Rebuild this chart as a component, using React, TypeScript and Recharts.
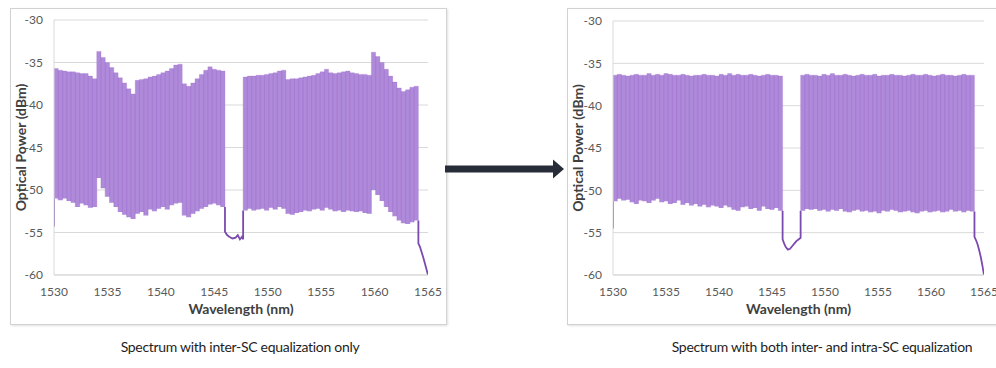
import React from "react";
import { ComposedChart, Area, Line, XAxis, YAxis, CartesianGrid, Label } from "recharts";

const X_TICKS = [1530, 1535, 1540, 1545, 1550, 1555, 1560, 1565];
const Y_TICKS = [-60, -55, -50, -45, -40, -35, -30];

// channel centre wavelengths (nm)
const BAND1_WL = [
  1530.2, 1530.6, 1531.0, 1531.4, 1531.8, 1532.2, 1532.6, 1533.0, 1533.4, 1533.8,
  1534.2, 1534.6, 1535.0, 1535.4, 1535.8, 1536.2, 1536.6, 1537.0, 1537.4, 1537.8,
  1538.2, 1538.6, 1539.0, 1539.4, 1539.8, 1540.2, 1540.6, 1541.0, 1541.4, 1541.8,
  1542.2, 1542.6, 1543.0, 1543.4, 1543.8, 1544.2, 1544.6, 1545.0, 1545.4, 1545.8,
];
const BAND2_WL = [
  1547.9, 1548.3, 1548.7, 1549.1, 1549.5, 1549.9, 1550.3, 1550.7, 1551.1, 1551.5,
  1551.9, 1552.3, 1552.7, 1553.1, 1553.5, 1553.9, 1554.3, 1554.7, 1555.1, 1555.5,
  1555.9, 1556.3, 1556.7, 1557.1, 1557.5, 1557.9, 1558.3, 1558.7, 1559.1, 1559.5,
  1559.9, 1560.3, 1560.7, 1561.1, 1561.5, 1561.9, 1562.3, 1562.7, 1563.1, 1563.5, 1563.9,
];
const CH_HALF = 0.2;

// inter-SC equalization only (dBm)
const INTER_PEAK_1 = [
  -35.7, -35.9, -36.0, -36.1, -36.1, -36.2, -36.3, -36.3, -36.6, -36.9,
  -33.7, -34.4, -35.0, -35.6, -36.2, -36.8, -37.4, -38.1, -38.7,
  -37.1, -37.0, -36.9, -36.7, -36.6, -36.4, -36.2, -36.0, -35.7, -35.3, -35.2,
  -37.5, -37.8, -37.4, -36.9, -36.4, -35.9, -35.5, -35.8, -35.9, -36.0,
];
const INTER_FLOOR_1 = [
  -51.0, -51.2, -51.0, -51.3, -51.5, -52.0, -51.6, -51.8, -52.1, -52.0,
  -48.6, -49.8, -50.8, -51.5, -52.0, -52.6, -52.9, -53.2, -53.4,
  -52.8, -52.6, -53.0, -52.3, -52.5, -52.2, -52.0, -52.3, -51.8, -51.6, -51.5,
  -53.0, -53.2, -52.8, -52.5, -52.2, -52.0, -51.7, -51.6, -51.8, -52.0,
];
const INTER_PEAK_2 = [
  -36.7, -36.6, -36.6, -36.5, -36.5, -36.4, -36.3, -36.2, -36.0, -35.9,
  -37.0, -36.9, -36.9, -36.8, -36.7, -36.6, -36.5, -36.3, -36.1, -35.8,
  -36.2, -36.3, -36.2, -36.1, -36.0, -36.2, -36.3, -36.4, -36.4, -36.5,
  -33.8, -34.3, -35.0, -35.8, -36.6, -37.3, -38.0, -38.4, -38.2, -37.9, -37.8,
];
const INTER_FLOOR_2 = [
  -52.4, -52.2, -52.4, -52.3, -52.2, -52.4, -52.1, -52.3, -52.0, -52.2,
  -52.8, -52.9, -52.7, -52.6, -52.4, -52.5, -52.3, -52.2, -52.4, -52.1,
  -52.3, -52.5, -52.4, -52.6, -52.4, -52.5, -52.6, -52.5, -52.7, -52.8,
  -50.0, -50.6, -51.3, -52.0, -52.6, -53.1, -53.6, -53.9, -54.0, -53.8, -53.6,
];
const INTER_START_WL = [1530.0, 1530.0];
const INTER_START_DBM = [-54.3, -51.0];
const INTER_GAP_WL = [1546.0, 1546.0, 1546.2, 1546.4, 1546.7, 1547.0, 1547.2, 1547.4, 1547.6, 1547.7, 1547.7];
const INTER_GAP_DBM = [-52.0, -54.9, -55.3, -55.5, -55.7, -55.6, -55.3, -55.8, -55.5, -55.8, -52.4];
const INTER_TAIL_WL = [1564.1, 1564.1, 1564.25, 1564.4, 1564.55, 1564.7, 1564.85, 1565.0];
const INTER_TAIL_DBM = [-53.6, -56.3, -56.7, -57.3, -57.9, -58.6, -59.3, -60.0];

// inter- and intra-SC equalization (dBm)
const BOTH_PEAK_1 = [
  -36.4, -36.3, -36.4, -36.5, -36.4, -36.3, -36.4, -36.4, -36.2, -36.4,
  -36.3, -36.4, -36.2, -36.3, -36.4, -36.4, -36.3, -36.4, -36.5, -36.4,
  -36.4, -36.3, -36.4, -36.4, -36.5, -36.3, -36.4, -36.2, -36.4, -36.3,
  -36.4, -36.4, -36.3, -36.4, -36.5, -36.4, -36.3, -36.4, -36.4, -36.5,
];
const BOTH_FLOOR_1 = [
  -51.3, -51.0, -51.2, -51.1, -51.4, -51.6, -51.2, -51.3, -51.5, -51.2,
  -51.0, -51.4, -51.3, -51.6, -51.5, -51.2, -51.7, -51.5, -51.8, -51.6,
  -51.9, -51.7, -52.0, -51.8, -51.9, -52.1, -51.8, -52.0, -52.3, -52.4,
  -52.0, -51.9, -52.2, -52.1, -52.4, -51.9, -52.2, -52.3, -52.1, -52.4,
];
const BOTH_PEAK_2 = [
  -36.4, -36.3, -36.4, -36.4, -36.5, -36.3, -36.4, -36.2, -36.4, -36.4,
  -36.3, -36.4, -36.5, -36.4, -36.3, -36.4, -36.4, -36.3, -36.5, -36.4,
  -36.4, -36.3, -36.4, -36.4, -36.5, -36.4, -36.3, -36.4, -36.4, -36.3,
  -36.4, -36.5, -36.4, -36.3, -36.4, -36.4, -36.5, -36.4, -36.3, -36.4, -36.4,
];
const BOTH_FLOOR_2 = [
  -52.4, -52.2, -52.3, -52.2, -52.4, -52.3, -52.5, -52.3, -52.4, -52.2,
  -52.5, -52.6, -52.4, -52.3, -52.5, -52.4, -52.6, -52.5, -52.7, -52.4,
  -52.5, -52.3, -52.4, -52.6, -52.5, -52.4, -52.6, -52.7, -52.5, -52.4,
  -52.6, -52.5, -52.4, -52.6, -52.5, -52.3, -52.5, -52.4, -52.6, -52.4, -52.5,
];
const BOTH_START_WL = [1530.0, 1530.0];
const BOTH_START_DBM = [-54.5, -51.3];
const BOTH_GAP_WL = [1546.0, 1546.0, 1546.15, 1546.3, 1546.5, 1546.7, 1546.9, 1547.1, 1547.3, 1547.5, 1547.7, 1547.7];
const BOTH_GAP_DBM = [-52.4, -55.8, -56.3, -56.7, -57.0, -56.9, -56.6, -56.3, -56.0, -55.8, -55.6, -52.4];
const BOTH_TAIL_WL = [1564.1, 1564.1, 1564.25, 1564.4, 1564.55, 1564.7, 1564.85, 1565.0];
const BOTH_TAIL_DBM = [-52.5, -55.5, -55.9, -56.4, -57.1, -57.9, -58.9, -60.0];

const FONT = "Lato, 'Open Sans', sans-serif";

function stepRows(wl: number[], peak: number[], floor: number[]) {
  const rows = wl.map((w, i) => ({ x: w - CH_HALF, band: [floor[i], peak[i]] }));
  const last = wl.length - 1;
  rows.push({ x: wl[last] + CH_HALF, band: [floor[last], peak[last]] });
  return rows;
}

function combRows(wl: number[], peak: number[], floor: number[]) {
  const rows: { x: number; v: number }[] = [];
  wl.forEach((w, i) => {
    rows.push({ x: w - CH_HALF, v: floor[i] });
    rows.push({ x: w - CH_HALF, v: peak[i] });
    rows.push({ x: w + CH_HALF, v: peak[i] });
    rows.push({ x: w + CH_HALF, v: floor[i] });
  });
  return rows;
}

function traceRows(segments: [number[], number[]][]) {
  const rows: { x: number; v: number | null }[] = [];
  segments.forEach(([wl, dbm], s) => {
    if (s > 0) rows.push({ x: wl[0], v: null });
    wl.forEach((w, i) => rows.push({ x: w, v: dbm[i] }));
  });
  return rows;
}

type SpectrumProps = {
  left: number;
  plotLeft: number;
  plotTop: number;
  plotWidth: number;
  peak1: number[];
  floor1: number[];
  peak2: number[];
  floor2: number[];
  trace: [number[], number[]][];
};

function Spectrum({ left, plotLeft, plotTop, plotWidth, peak1, floor1, peak2, floor2, trace }: SpectrumProps) {
  const tick = { fill: "#595959", fontSize: 12, fontFamily: FONT };
  const labelStyle = { fill: "#404040", fontSize: 14, fontWeight: 700, fontFamily: FONT };
  return (
    <div
      style={{
        position: "absolute",
        left,
        top: 8,
        width: 437,
        height: 317,
        boxSizing: "border-box",
        border: "1px solid #d2d2d2",
        boxShadow: "1px 1px 2px rgba(0,0,0,0.12)",
        background: "#fff",
      }}
    >
      <ComposedChart
        width={435}
        height={315}
        margin={{ top: plotTop, right: 435 - plotLeft - plotWidth, bottom: 0, left: 0 }}
      >
        <CartesianGrid horizontal vertical={false} stroke="#d9d9d9" />
        <XAxis
          dataKey="x"
          type="number"
          domain={[1530, 1565]}
          ticks={X_TICKS}
          allowDataOverflow
          height={49}
          tickSize={0}
          tickMargin={12}
          tick={tick}
          axisLine={{ stroke: "#d9d9d9" }}
        >
          <Label value="Wavelength (nm)" position="insideBottom" offset={10} style={labelStyle} />
        </XAxis>
        <YAxis
          type="number"
          domain={[-60, -30]}
          ticks={Y_TICKS}
          allowDataOverflow
          width={plotLeft}
          tickSize={0}
          tickMargin={11}
          tick={tick}
          axisLine={{ stroke: "#d9d9d9" }}
        >
          <Label value="Optical Power (dBm)" angle={-90} position="center" dx={-(plotLeft / 2 - 10.5)} style={labelStyle} />
        </YAxis>
        <Area
          data={stepRows(BAND1_WL, peak1, floor1)}
          dataKey="band"
          type="stepAfter"
          stroke="none"
          fill="#b08ada"
          fillOpacity={1}
          isAnimationActive={false}
        />
        <Area
          data={stepRows(BAND2_WL, peak2, floor2)}
          dataKey="band"
          type="stepAfter"
          stroke="none"
          fill="#b08ada"
          fillOpacity={1}
          isAnimationActive={false}
        />
        <Line
          data={combRows(BAND1_WL, peak1, floor1)}
          dataKey="v"
          type="linear"
          stroke="#9a6ccb"
          strokeWidth={0.5}
          strokeOpacity={0.5}
          dot={false}
          isAnimationActive={false}
        />
        <Line
          data={combRows(BAND2_WL, peak2, floor2)}
          dataKey="v"
          type="linear"
          stroke="#9a6ccb"
          strokeWidth={0.5}
          strokeOpacity={0.5}
          dot={false}
          isAnimationActive={false}
        />
        <Line
          data={traceRows(trace)}
          dataKey="v"
          type="linear"
          stroke="#7b4ab0"
          strokeWidth={1.8}
          dot={false}
          isAnimationActive={false}
        />
      </ComposedChart>
    </div>
  );
}

export default function App() {
  const caption = {
    position: "absolute" as const,
    top: 338,
    fontFamily: FONT,
    fontSize: 14,
    letterSpacing: -0.3,
    color: "#1e1e1e",
    whiteSpace: "nowrap" as const,
    transform: "translateX(-50%)",
  };
  return (
    <div style={{ position: "absolute", left: 0, top: 0, width: 996, height: 368, background: "#fff", overflow: "hidden" }}>
      <Spectrum
        left={10}
        plotLeft={43}
        plotTop={11}
        plotWidth={374}
        peak1={INTER_PEAK_1}
        floor1={INTER_FLOOR_1}
        peak2={INTER_PEAK_2}
        floor2={INTER_FLOOR_2}
        trace={[
          [INTER_START_WL, INTER_START_DBM],
          [INTER_GAP_WL, INTER_GAP_DBM],
          [INTER_TAIL_WL, INTER_TAIL_DBM],
        ]}
      />
      <Spectrum
        left={567}
        plotLeft={45}
        plotTop={12}
        plotWidth={371}
        peak1={BOTH_PEAK_1}
        floor1={BOTH_FLOOR_1}
        peak2={BOTH_PEAK_2}
        floor2={BOTH_FLOOR_2}
        trace={[
          [BOTH_START_WL, BOTH_START_DBM],
          [BOTH_GAP_WL, BOTH_GAP_DBM],
          [BOTH_TAIL_WL, BOTH_TAIL_DBM],
        ]}
      />
      <svg style={{ position: "absolute", left: 444, top: 158 }} width={122} height={22}>
        <rect x={1} y={7.5} width={110} height={7} fill="#262d38" />
        <polygon points="109,1.5 120,11 109,20.5" fill="#262d38" />
      </svg>
      <div style={{ ...caption, left: 240 }}>Spectrum with inter-SC equalization only</div>
      <div style={{ ...caption, left: 822 }}>Spectrum with both inter- and intra-SC equalization</div>
    </div>
  );
}
